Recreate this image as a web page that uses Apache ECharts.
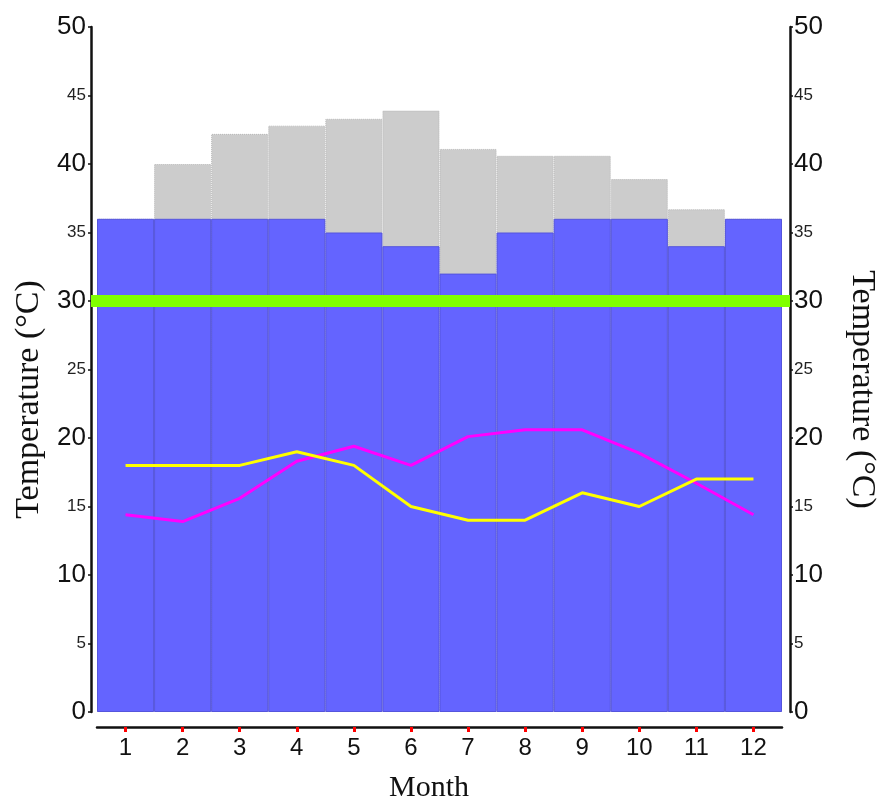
<!DOCTYPE html>
<html>
<head>
<meta charset="utf-8">
<script src="https://cdn.jsdelivr.net/npm/echarts@6/dist/echarts.min.js"></script>
<style>
  html, body { margin: 0; padding: 0; background: #fff; }
  #main { width: 880px; height: 801px; }
</style>
</head>
<body>
<div id="main"></div>
<script>
// 数据
const months = ["1", "2", "3", "4", "5", "6", "7", "8", "9", "10", "11", "12"];
const maxTemp = [36, 40, 42.2, 42.8, 43.3, 43.9, 41.1, 40.6, 40.6, 38.9, 36.7, 36];
const baseTemp = [36, 36, 36, 36, 35, 34, 32, 35, 36, 36, 34, 36];
const magentaLine = [14.4, 13.9, 15.6, 18.3, 19.4, 18, 20.1, 20.6, 20.6, 18.9, 16.7, 14.4];
const yellowLine = [18, 18, 18, 19, 18, 15, 14, 14, 16, 15, 17, 17];
const threshold = 30;

const chart = echarts.init(document.getElementById("main"));

const sans = "Liberation Sans, Arial, sans-serif";
const serif = "Liberation Serif, Times New Roman, serif";

// 大小刻度标签
function tickLabel(v) {
  return v % 10 === 0 ? "{big|" + v + "}" : "{small|" + v + "}";
}
const richLabels = {
  big: { fontSize: 26, fontFamily: sans, color: "#111" },
  small: { fontSize: 17, fontFamily: sans, color: "#222" }
};

function yAxisOpt(pos) {
  const left = pos === "left";
  return {
    type: "value",
    gridIndex: 1,
    position: pos,
    min: 0,
    max: 50,
    interval: 5,
    name: "Temperature (°C)",
    nameLocation: "middle",
    nameRotate: left ? 90 : -90,
    nameGap: left ? 44 : 55,
    nameTextStyle: {
      fontFamily: serif,
      fontSize: 34,
      color: "#111",
      padding: left ? [0, 60, 0, 0] : [0, 0, 0, 40]
    },
    axisLine: { show: true, lineStyle: { color: "#111", width: 2.5 } },
    axisTick: { show: true, length: 3, lineStyle: { color: "#111", width: 1.5 } },
    axisLabel: { margin: left ? 5 : 4, formatter: tickLabel, rich: richLabels },
    splitLine: { show: false }
  };
}

chart.setOption({
  animation: false,
  title: {
    text: "Month",
    left: 384,
    top: 768,
    textStyle: { fontFamily: serif, fontSize: 30, fontWeight: "normal", color: "#111" }
  },
  grid: [
    { left: 97, right: 98, top: 27, bottom: 89, outerBoundsMode: "none" },
    { left: 91, right: 90, top: 27, bottom: 89, outerBoundsMode: "none" }
  ],
  xAxis: [
    {
      type: "category",
      gridIndex: 0,
      data: months,
      boundaryGap: true,
      offset: 15,
      axisLine: { onZero: false, lineStyle: { color: "#111", width: 2.5 } },
      axisTick: { show: true, interval: 0, alignWithLabel: true, length: 5, lineStyle: { color: "#ff0000", width: 3 } },
      axisLabel: { margin: 9, fontSize: 24, fontFamily: sans, color: "#111" }
    },
    { type: "value", gridIndex: 1, min: 0, max: 1, show: false }
  ],
  yAxis: [
    { type: "value", gridIndex: 0, min: 0, max: 50, show: false },
    yAxisOpt("left"),
    yAxisOpt("right")
  ],
  series: [
    {
      name: "max",
      type: "bar",
      xAxisIndex: 0,
      yAxisIndex: 0,
      data: maxTemp,
      barWidth: "100%",
      barGap: "-100%",
      itemStyle: { color: "#cccccc", borderColor: "#b8b8b8", borderWidth: 1, borderType: "dotted" }
    },
    {
      name: "base",
      type: "bar",
      xAxisIndex: 0,
      yAxisIndex: 0,
      data: baseTemp,
      barWidth: "100%",
      barGap: "-100%",
      itemStyle: { color: "#6464ff", borderColor: "#5555dd", borderWidth: 1 }
    },
    {
      name: "magenta",
      type: "line",
      xAxisIndex: 0,
      yAxisIndex: 0,
      data: magentaLine,
      symbol: "none",
      z: 5,
      lineStyle: { color: "#ff00ff", width: 3 }
    },
    {
      name: "yellow",
      type: "line",
      xAxisIndex: 0,
      yAxisIndex: 0,
      data: yellowLine,
      symbol: "none",
      z: 5,
      lineStyle: { color: "#ffff00", width: 3 }
    },
    {
      // 阈值线，横跨整个坐标轴宽度
      name: "threshold",
      type: "line",
      xAxisIndex: 1,
      yAxisIndex: 1,
      data: [],
      z: 4,
      markLine: {
        silent: true,
        symbol: "none",
        label: { show: false },
        lineStyle: { color: "#80ff00", width: 12, type: "solid" },
        data: [{ yAxis: threshold }]
      }
    }
  ]
});
</script>
</body>
</html>
